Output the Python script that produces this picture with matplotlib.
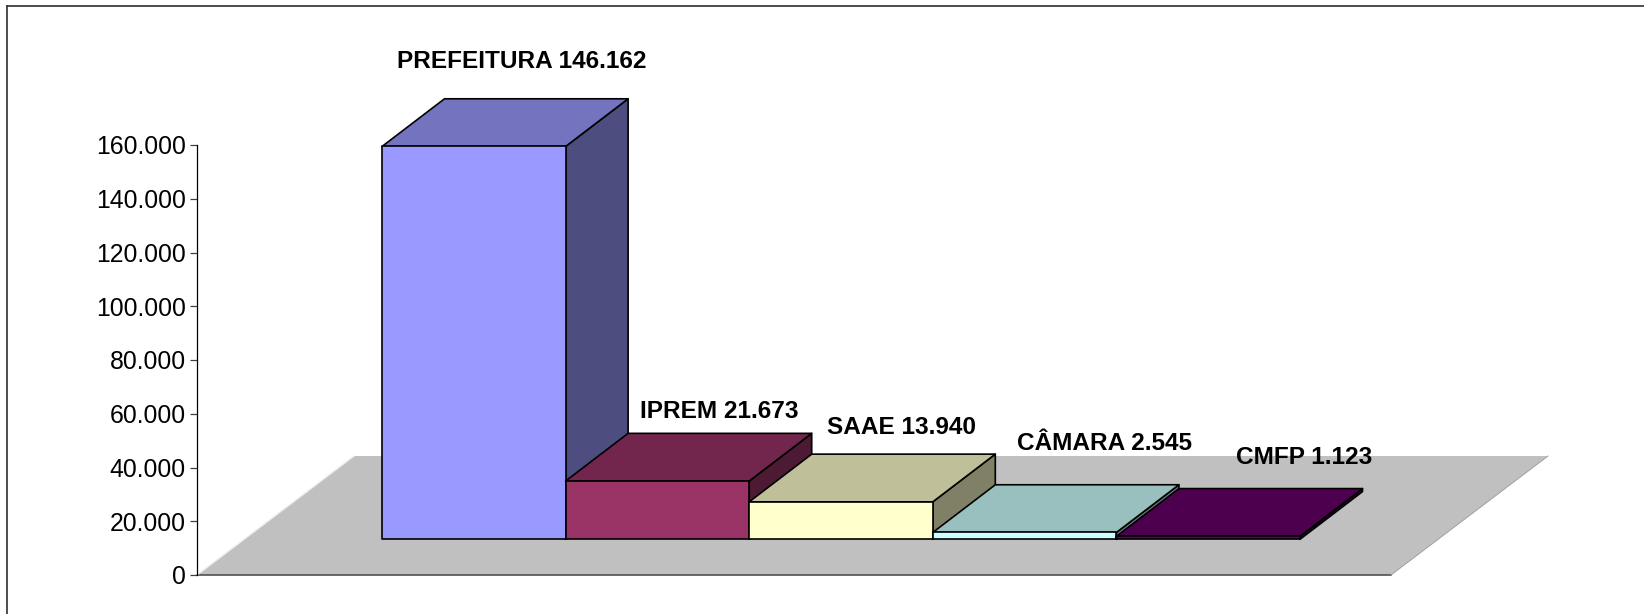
import matplotlib
matplotlib.use("Agg")
import matplotlib.pyplot as plt
from matplotlib.lines import Line2D
from matplotlib.patches import Polygon
from matplotlib.ticker import FuncFormatter
from matplotlib.transforms import IdentityTransform

plt.rcParams['font.family'] = ['Liberation Sans', 'DejaVu Sans']

# values
categories = ["PREFEITURA", "IPREM", "SAAE", "CÂMARA", "CMFP"]
values = [146162, 21673, 13940, 2545, 1123]
front_colors = ["#9999FF", "#993366", "#FFFFCC", "#CCFFFF", "#660066"]
top_colors = ["#7373BF", "#73264D", "#BFBF99", "#99BFBF", "#4D004D"]
side_colors = ["#4D4D80", "#4D1A33", "#808066", "#668080", "#330033"]
y_ticks = [0, 20000, 40000, 60000, 80000, 100000, 120000, 140000, 160000]

W, H = 1644, 614
fig = plt.figure(figsize=(W / 100, H / 100), dpi=100)

# axes box in pixels, y axis runs 0..160000
left, right, bottom, top = 197, 1547, 575, 145
ax = fig.add_axes([left / W, 1 - bottom / H, (right - left) / W, (bottom - top) / H])
px_per_cat = 183.6
ax.set_xlim(0, (right - left) / px_per_cat)
ax.set_ylim(0, 160000)
val_per_px = 160000 / (bottom - top)

# oblique depth of floor and bars, in axis units
floor_dx = 157 / px_per_cat
floor_dy = 119 * val_per_px
floor_w = (1391 - 197) / px_per_cat
bar_dx = 62.5 / px_per_cat
bar_dy = 47.7 * val_per_px
bar_x0 = (382 - 197) / px_per_cat
bar_y0 = (575 - 539.3) * val_per_px

floor = Polygon([(0, 0), (floor_w, 0), (floor_w + floor_dx, floor_dy), (floor_dx, floor_dy)],
                closed=True, facecolor="#C0C0C0", edgecolor="none", clip_on=False, zorder=1)
ax.add_patch(floor)
ax.plot([0, floor_w], [0, 0], color="#505050", lw=1.2, clip_on=False, zorder=1.5)
ax.plot([floor_w, floor_w + floor_dx], [0, floor_dy], color="#A0A0A0", lw=0.7, clip_on=False, zorder=1.5)
ax.plot([0, floor_dx], [0, floor_dy], color="#EEEEEE", lw=1.0, clip_on=False, zorder=1.5)

for i, v in enumerate(values):
    x0 = bar_x0 + i
    x1 = x0 + 1
    y0 = bar_y0
    y1 = bar_y0 + v
    front = [(x0, y0), (x1, y0), (x1, y1), (x0, y1)]
    roof = [(x0, y1), (x1, y1), (x1 + bar_dx, y1 + bar_dy), (x0 + bar_dx, y1 + bar_dy)]
    side = [(x1, y0), (x1 + bar_dx, y0 + bar_dy), (x1 + bar_dx, y1 + bar_dy), (x1, y1)]
    for pts, col in [(side, side_colors[i]), (roof, top_colors[i]), (front, front_colors[i])]:
        ax.add_patch(Polygon(pts, closed=True, facecolor=col, edgecolor="black", lw=1.2,
                             joinstyle="round", clip_on=False, zorder=2 + i))

# axis
for s in ["top", "right", "bottom"]:
    ax.spines[s].set_visible(False)
ax.spines["left"].set_linewidth(0.9)
ax.patch.set_visible(False)
ax.set_xticks([])
ax.set_yticks(y_ticks)
ax.yaxis.set_major_formatter(FuncFormatter(lambda v, p: f"{int(v):,}".replace(",", ".")))
ax.tick_params(axis="y", length=5, width=0.9, pad=3.2, labelsize=17.8, color="#404040")

# data labels, placed by hand in pixels as in the source
label_pos = [(397, 61), (640, 411), (827, 428), (1017, 443), (1236, 458)]
label_text = [f"{c} {v:,}".replace(",", ".") for c, v in zip(categories, values)]
for (px, py), t in zip(label_pos, label_text):
    fig.text(px, H - py, t, transform=IdentityTransform(), fontsize=17.6, fontweight="bold",
             ha="left", va="center", color="black", zorder=20)

# chart frame, only top and left are inside the picture
frame_col = "#303030"
fig.add_artist(Line2D([7, W], [H - 6, H - 6], transform=IdentityTransform(), color=frame_col, lw=1.2))
fig.add_artist(Line2D([7, 7], [0, H - 6], transform=IdentityTransform(), color=frame_col, lw=1.2))

fig.savefig("out.png", dpi=100, facecolor="white")
